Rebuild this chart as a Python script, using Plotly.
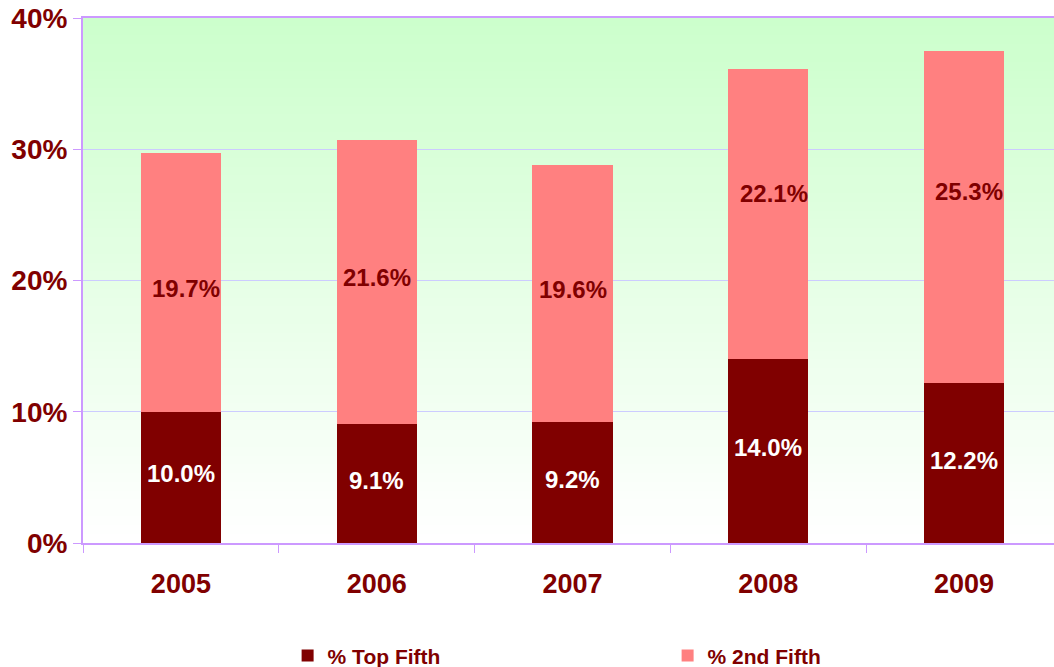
import plotly.graph_objects as go

years = ["2005", "2006", "2007", "2008", "2009"]
top_fifth = [10.0, 9.1, 9.2, 14.0, 12.2]
second_fifth = [19.7, 21.6, 19.6, 22.1, 25.3]
y_ticks = [0, 10, 20, 30, 40]

# pixel nudges of the value labels (as placed in the original chart)
top_dx = [0, 0, 0, 0, 0]
top_dy = [4, 3, 3, 4, 2]
second_dx = [5, 0, 0, 6, 5]
second_dy = [-6, 4, 4, 21, 25]

DARK = "#800000"
PINK = "#FF8080"
FONT = "Liberation Sans, Arial, sans-serif"

fig = go.Figure()
fig.add_trace(go.Bar(
    x=years, y=top_fifth, name="<b>% Top Fifth</b>", marker_color=DARK,
    marker_line_width=0, width=0.41,
))
fig.add_trace(go.Bar(
    x=years, y=second_fifth, name="<b>% 2nd Fifth</b>", marker_color=PINK,
    marker_line_width=0, width=0.41,
))

annotations = []
for i, yr in enumerate(years):
    a = top_fifth[i]
    b = second_fifth[i]
    annotations.append(dict(
        x=i, y=a / 2, xref="x", yref="y", showarrow=False,
        text=f"<b>{a:.1f}%</b>", font=dict(size=24, color="white", family=FONT),
        xshift=top_dx[i], yshift=top_dy[i],
    ))
    annotations.append(dict(
        x=i, y=a + b / 2, xref="x", yref="y", showarrow=False,
        text=f"<b>{b:.1f}%</b>", font=dict(size=24, color=DARK, family=FONT),
        xshift=second_dx[i], yshift=second_dy[i],
    ))

# vertical gradient background (light green at top to white at bottom)
n = 60
shapes = []
for i in range(n):
    t = i / (n - 1)
    r = int(round(255 - (255 - 204) * t))
    shapes.append(dict(
        type="rect", xref="paper", yref="paper",
        x0=0, x1=1, y0=i / n, y1=(i + 1) / n + 0.002,
        fillcolor=f"rgb({r},255,{r})", line_width=0, layer="below",
    ))

fig.update_layout(
    width=1062, height=667,
    margin=dict(l=83, r=0, t=18, b=124, autoexpand=False),
    paper_bgcolor="white", plot_bgcolor="white",
    barmode="stack",
    shapes=shapes,
    annotations=annotations,
    font=dict(family=FONT, color=DARK),
    showlegend=True,
    legend=dict(
        orientation="h", x=0.209, xanchor="left", y=-0.176, yanchor="top",
        font=dict(size=21, color=DARK, family=FONT),
        entrywidth=335, entrywidthmode="pixels", traceorder="normal",
    ),
)
fig.update_xaxes(
    type="category", categoryorder="array", categoryarray=years,
    range=[-0.5, len(years) - 0.5], autorange=False,
    showgrid=False, automargin=False,
    showline=True, linecolor="#CC99FF", linewidth=2, mirror=True,
    ticks="outside", tickson="boundaries", ticklen=8, tickcolor="#CC99FF", tickwidth=1,
    tickfont=dict(size=27, color=DARK, family=FONT),
    ticklabelstandoff=16,
    tickprefix="<b>", ticksuffix="</b>",
)
fig.update_yaxes(
    range=[0, 40], tickvals=y_ticks, ticktext=[f"<b>{v}%</b>" for v in y_ticks],
    automargin=False,
    showgrid=True, gridcolor="#CCCCFF", gridwidth=1,
    showline=True, linecolor="#CC99FF", linewidth=2,
    ticks="outside", ticklen=8, tickcolor="#CC99FF", tickwidth=1,
    tickfont=dict(size=28, color=DARK, family=FONT),
    zeroline=False,
)

fig.write_html(
    "out.html",
    config={"displayModeBar": False},
    post_script="document.body.style.margin='0';document.body.style.overflow='hidden';",
)
